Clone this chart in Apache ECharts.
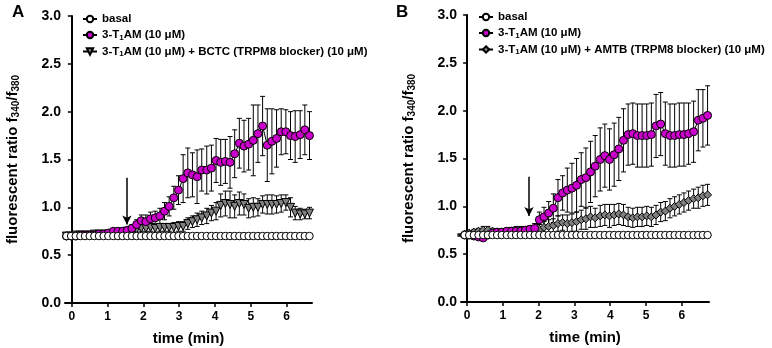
<!DOCTYPE html>
<html><head><meta charset="utf-8">
<script src="https://cdn.jsdelivr.net/npm/echarts@6/dist/echarts.min.js"></script>
<style>html,body{margin:0;padding:0;background:#fff}#c{width:772px;height:348px}</style>
</head><body><div id="c"></div>
<script>
// ---------- data ----------
const xTicks = [0, 1, 2, 3, 4, 5, 6];
const timeA = [-0.15,-0.02,0.11,0.24,0.37,0.50,0.63,0.76,0.89,1.02,1.16,1.29,1.42,1.55,1.68,1.81,1.94,2.07,2.20,2.33,2.46,2.59,2.72,2.85,2.98,3.11,3.24,3.37,3.50,3.63,3.77,3.90,4.03,4.16,4.29,4.42,4.55,4.68,4.81,4.94,5.07,5.20,5.33,5.46,5.59,5.72,5.85,5.98,6.11,6.24,6.38,6.51,6.64];
const basalA = [0.70,0.70,0.70,0.70,0.70,0.70,0.70,0.70,0.70,0.70,0.70,0.70,0.70,0.70,0.70,0.70,0.70,0.70,0.70,0.70,0.70,0.70,0.70,0.70,0.70,0.70,0.70,0.70,0.70,0.70,0.70,0.70,0.70,0.70,0.70,0.70,0.70,0.70,0.70,0.70,0.70,0.70,0.70,0.70,0.70,0.70,0.70,0.70,0.70,0.70,0.70,0.70,0.70];
const t1amA = [0.70,0.70,0.70,0.71,0.71,0.71,0.71,0.72,0.72,0.73,
 0.75,0.75,0.75,0.76,0.78,0.82,0.86,0.85,0.88,0.89,
 0.91,0.96,1.01,1.10,1.18,1.30,1.36,1.34,1.32,1.39,
 1.39,1.41,1.49,1.47,1.48,1.47,1.56,1.67,1.64,1.66,
 1.70,1.77,1.85,1.65,1.69,1.72,1.79,1.79,1.75,1.74,
 1.76,1.81,1.75];
const t1amAErr = [0.01,0.01,0.01,0.01,0.01,0.01,0.02,0.02,0.02,0.02,
 0.02,0.02,0.03,0.03,0.04,0.05,0.06,0.07,0.07,0.07,
 0.08,0.09,0.10,0.12,0.15,0.25,0.26,0.23,0.28,0.22,
 0.25,0.24,0.23,0.24,0.23,0.27,0.25,0.26,0.27,0.27,
 0.37,0.30,0.31,0.38,0.34,0.30,0.24,0.23,0.25,0.27,
 0.25,0.26,0.25];
const bctcA = [0.70,0.70,0.71,0.71,0.71,0.71,0.72,0.72,0.72,0.72,
 0.73,0.73,0.74,0.75,0.76,0.77,0.78,0.78,0.79,0.78,
 0.79,0.79,0.79,0.79,0.80,0.80,0.83,0.85,0.87,0.89,
 0.91,0.94,0.96,1.02,1.04,1.03,1.01,1.04,1.03,0.99,
 1.00,1.00,1.03,1.03,1.03,1.03,1.04,1.05,1.00,0.94,
 0.93,0.93,0.94];
const bctcAErr = [0.01,0.01,0.01,0.01,0.01,0.01,0.01,0.01,0.01,0.01,
 0.01,0.02,0.02,0.02,0.03,0.03,0.03,0.03,0.04,0.04,
 0.04,0.04,0.04,0.05,0.05,0.05,0.06,0.06,0.07,0.07,
 0.08,0.08,0.09,0.12,0.13,0.14,0.12,0.12,0.11,0.10,
 0.10,0.09,0.09,0.10,0.10,0.09,0.09,0.08,0.10,0.07,
 0.06,0.05,0.06];

const timeB = [-0.20,-0.07,0.06,0.19,0.32,0.45,0.58,0.71,0.84,0.97,1.11,1.24,1.37,1.50,1.63,1.76,1.89,2.02,2.15,2.28,2.41,2.54,2.67,2.80,2.93,3.06,3.19,3.32,3.45,3.58,3.72,3.85,3.98,4.11,4.24,4.37,4.50,4.63,4.76,4.89,5.02,5.15,5.28,5.41,5.54,5.67,5.80,5.93,6.06,6.19,6.33,6.46,6.59,6.72];
const basalB = [0.70,0.70,0.70,0.70,0.70,0.70,0.70,0.70,0.70,0.70,0.70,0.70,0.70,0.70,0.70,0.70,0.70,0.70,0.70,0.70,0.70,0.70,0.70,0.70,0.70,0.70,0.70,0.70,0.70,0.70,0.70,0.70,0.70,0.70,0.70,0.70,0.70,0.70,0.70,0.70,0.70,0.70,0.70,0.70,0.70,0.70,0.70,0.70,0.70,0.70,0.70,0.70,0.70,0.70];
const t1amB = [0.70,0.70,0.70,0.69,0.68,0.67,0.70,0.72,0.73,0.73,
 0.74,0.74,0.74,0.74,0.75,0.76,0.77,0.86,0.89,0.93,
 0.98,1.09,1.14,1.17,1.19,1.22,1.28,1.30,1.36,1.42,
 1.49,1.53,1.49,1.54,1.60,1.69,1.75,1.76,1.74,1.74,
 1.74,1.75,1.84,1.86,1.76,1.74,1.74,1.75,1.75,1.76,
 1.78,1.90,1.92,1.95];
const t1amBErr = [0.01,0.01,0.01,0.02,0.02,0.03,0.02,0.02,0.03,0.03,
 0.03,0.04,0.05,0.05,0.04,0.04,0.05,0.08,0.10,0.12,
 0.15,0.19,0.18,0.23,0.26,0.28,0.28,0.31,0.32,0.32,
 0.33,0.33,0.32,0.33,0.33,0.33,0.32,0.32,0.33,0.33,
 0.33,0.33,0.33,0.33,0.33,0.33,0.33,0.33,0.33,0.32,
 0.32,0.32,0.30,0.31];
const amtbB = [0.70,0.71,0.72,0.73,0.74,0.75,0.75,0.74,0.73,0.73,
 0.73,0.72,0.72,0.72,0.72,0.73,0.74,0.76,0.78,0.79,
 0.80,0.82,0.83,0.82,0.83,0.84,0.86,0.87,0.89,0.88,
 0.90,0.91,0.90,0.91,0.92,0.91,0.89,0.88,0.89,0.89,
 0.90,0.89,0.91,0.94,0.95,0.98,1.00,1.02,1.04,1.06,
 1.08,1.09,1.11,1.12];
const amtbBErr = [0.01,0.02,0.02,0.03,0.03,0.04,0.04,0.03,0.03,0.03,
 0.02,0.02,0.02,0.02,0.02,0.03,0.04,0.05,0.06,0.07,
 0.07,0.08,0.08,0.09,0.09,0.10,0.10,0.11,0.11,0.10,
 0.11,0.11,0.12,0.11,0.11,0.11,0.10,0.10,0.10,0.10,
 0.10,0.10,0.10,0.10,0.10,0.10,0.10,0.10,0.10,0.10,
 0.10,0.11,0.11,0.11];

const arrowA = { t: 1.54, from: 1.31, to: 0.82 };
const arrowB = { t: 1.73, from: 1.31, to: 0.90 };

const NAME_BASAL = 'basal';
const NAME_T1AM = '3-T1AM (10 μM)';
const NAME_BCTC = '3-T1AM (10 μM) + BCTC (TRPM8 blocker) (10 μM)';
const NAME_AMTB = '3-T1AM (10 μM) + AMTB (TRPM8 blocker) (10 μM)';

// ---------- chart ----------
const FONT = '"Liberation Sans", Arial, Helvetica, sans-serif';
const MAGENTA = '#cc00cc';
const GRAY = '#808080';

function pts(t, v) { return t.map((x, i) => [x, v[i]]); }
function errPts(t, v, e) { return t.map((x, i) => [x, v[i], e[i]]); }

function errSeries(t, v, e, gi, z) {
  return {
    type: 'custom', xAxisIndex: gi, yAxisIndex: gi, z: z, silent: true, animation: false,
    data: errPts(t, v, e),
    encode: { x: 0, y: 1 },
    renderItem: function (p, api) {
      const x = api.value(0), y = api.value(1), er = api.value(2);
      const top = api.coord([x, y + er]), bot = api.coord([x, y - er]);
      const w = 2.5, st = { stroke: '#000', lineWidth: 1 };
      return { type: 'group', children: [
        { type: 'line', shape: { x1: top[0], y1: top[1], x2: bot[0], y2: bot[1] }, style: st },
        { type: 'line', shape: { x1: top[0] - w, y1: top[1], x2: top[0] + w, y2: top[1] }, style: st },
        { type: 'line', shape: { x1: bot[0] - w, y1: bot[1], x2: bot[0] + w, y2: bot[1] }, style: st }
      ]};
    }
  };
}

function lineSeries(name, t, v, gi, symbol, color, size, z, rot) {
  return {
    type: 'line', name: name, xAxisIndex: gi, yAxisIndex: gi, data: pts(t, v),
    symbol: symbol, symbolSize: size, symbolRotate: rot || 0, showAllSymbol: true, z: z,
    lineStyle: { color: '#000', width: 1 },
    itemStyle: { color: color, borderColor: '#000', borderWidth: 1 },
    emphasis: { disabled: true }, animation: false
  };
}

function arrowMark(a) {
  return {
    silent: true, symbol: ['none', 'arrow'], symbolSize: [7, 9],
    lineStyle: { color: '#000', width: 1.5, type: 'solid' },
    label: { show: false }, emphasis: { disabled: true },
    data: [[{ coord: [a.t, a.from] }, { coord: [a.t, a.to] }]]
  };
}

const rich = {
  sub: { fontFamily: FONT, fontWeight: 'bold', fontSize: 8, color: '#000', verticalAlign: 'bottom', padding: [5, 0, 0, 0] }
};
function legendFmt(name) { return name.replace(/T1AM/g, 'T{sub|1}AM'); }

function xAx(gi, min, max) {
  return {
    type: 'value', gridIndex: gi, min: min, max: max,
    name: 'time (min)', nameLocation: 'middle', nameGap: 28,
    nameTextStyle: { fontFamily: FONT, fontWeight: 'bold', fontSize: 15, color: '#000' },
    axisLine: { lineStyle: { color: '#000', width: 2 } },
    axisTick: { show: true, length: 4, customValues: xTicks, lineStyle: { color: '#000', width: 1.5 } },
    axisLabel: { customValues: xTicks, fontFamily: FONT, fontWeight: 'bold', fontSize: 12, color: '#000', margin: 8 },
    splitLine: { show: false }
  };
}
function yAx(gi) {
  return {
    type: 'value', gridIndex: gi, min: 0, max: 3, interval: 0.5,
    name: 'fluorescent ratio f{sub|340}/f{sub|380}', nameLocation: 'middle', nameGap: 44,
    nameTextStyle: { fontFamily: FONT, fontWeight: 'bold', fontSize: 15, color: '#000',
      rich: { sub: { fontFamily: FONT, fontWeight: 'bold', fontSize: 10, color: '#000', verticalAlign: 'bottom', padding: [7, 0, 0, 0] } } },
    axisLine: { show: true, lineStyle: { color: '#000', width: 2 } },
    axisTick: { show: true, length: 4, lineStyle: { color: '#000', width: 1.5 } },
    axisLabel: { formatter: v => v.toFixed(1), fontFamily: FONT, fontWeight: 'bold', fontSize: 14, color: '#000', margin: 4 },
    splitLine: { show: false }
  };
}

function legendCfg(left, top, names) {
  return {
    left: left, top: top, orient: 'vertical', itemGap: 4, itemWidth: 14, itemHeight: 8,
    data: names, selectedMode: false, formatter: legendFmt,
    textStyle: { fontFamily: FONT, fontWeight: 'bold', fontSize: 11.5, color: '#000', rich: rich }
  };
}

const sT1amA = lineSeries(NAME_T1AM, timeA, t1amA, 0, 'circle', MAGENTA, 8, 4);
sT1amA.markLine = arrowMark(arrowA);
const sT1amB = lineSeries(NAME_T1AM, timeB, t1amB, 1, 'circle', MAGENTA, 8, 4);
sT1amB.markLine = arrowMark(arrowB);

const option = {
  animation: false,
  backgroundColor: '#fff',
  grid: [
    { left: 65, top: 16, width: 247, height: 287, outerBoundsMode: 'none', containLabel: false },
    { left: 461, top: 15, width: 248, height: 287, outerBoundsMode: 'none', containLabel: false }
  ],
  xAxis: [xAx(0, -0.19, 6.71), xAx(1, -0.17, 6.76)],
  yAxis: [yAx(0), yAx(1)],
  legend: [
    legendCfg(77, 8, [NAME_BASAL, NAME_T1AM, NAME_BCTC]),
    legendCfg(473, 6, [NAME_BASAL, NAME_T1AM, NAME_AMTB])
  ],
  graphic: [
    { type: 'text', left: 12, top: 4, style: { text: 'A', fontFamily: FONT, fontWeight: 'bold', fontSize: 17, fill: '#000' } },
    { type: 'text', left: 396, top: 4, style: { text: 'B', fontFamily: FONT, fontWeight: 'bold', fontSize: 17, fill: '#000' } }
  ],
  series: [
    errSeries(timeA, bctcA, bctcAErr, 0, 1),
    errSeries(timeA, t1amA, t1amAErr, 0, 1),
    lineSeries(NAME_BCTC, timeA, bctcA, 0, 'triangle', GRAY, 8, 3, 180),
    sT1amA,
    lineSeries(NAME_BASAL, timeA, basalA, 0, 'circle', '#fff', 7.5, 5),
    errSeries(timeB, amtbB, amtbBErr, 1, 1),
    errSeries(timeB, t1amB, t1amBErr, 1, 1),
    lineSeries(NAME_AMTB, timeB, amtbB, 1, 'diamond', GRAY, 8, 3),
    sT1amB,
    lineSeries(NAME_BASAL, timeB, basalB, 1, 'circle', '#fff', 7.5, 5)
  ]
};
const chart = echarts.init(document.getElementById('c'), null, { renderer: 'canvas' });
chart.setOption(option);
</script>
</body></html>
